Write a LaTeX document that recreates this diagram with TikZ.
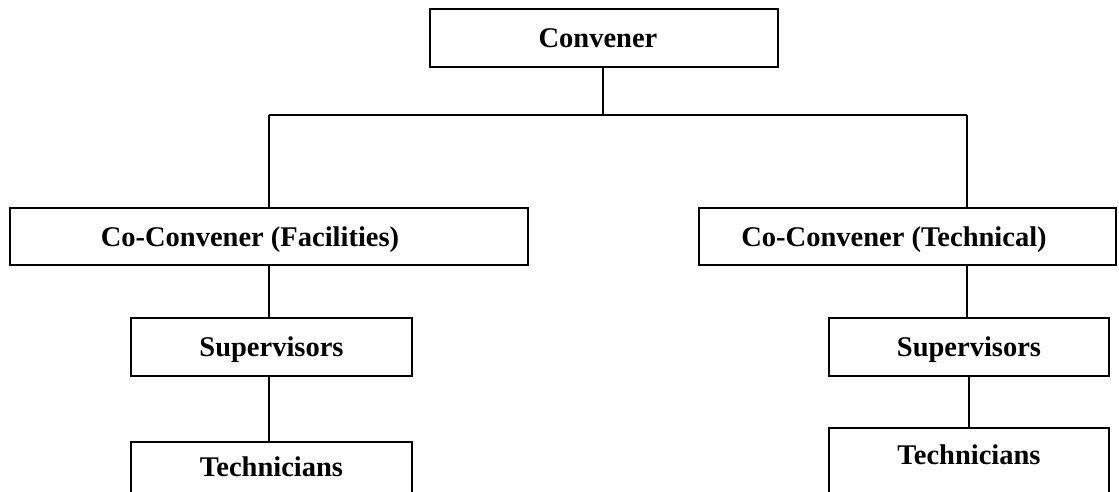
\documentclass[tikz,border=0pt]{standalone}
\usepackage{fontspec}
\setmainfont{Liberation Serif}
\begin{document}
\begin{tikzpicture}[x=1pt,y=-1pt,
  box/.style={draw=black, line width=1.5pt, rectangle, inner sep=0pt, font=\fontsize{28.5}{34}\selectfont\bfseries, text height=19pt, text depth=0pt},
  lbl/.style={inner sep=0pt, font=\fontsize{28.5}{34}\selectfont\bfseries, text height=19pt, text depth=0pt},
  conn/.style={draw=black, line width=1.5pt}]
\useasboundingbox (0,0) rectangle (1119,491);
\clip (0,0) rectangle (1119,491);
% boxes
\node[box, minimum width=348pt, minimum height=58pt] (conv) at (604,38) {Convener\kern12pt};
\node[box, minimum width=518pt, minimum height=57pt] (lco) at (269,236.5) {Co-Convener (Facilities)\kern38pt};
\node[box, minimum width=417pt, minimum height=57pt] (rco) at (907.5,236.5) {Co-Convener (Technical)\kern27pt};
\node[box, minimum width=281pt, minimum height=58pt] (lsup) at (271.5,347) {Supervisors};
\node[box, minimum width=280pt, minimum height=58pt] (rsup) at (969,347) {Supervisors};
\node[box, minimum width=281pt, minimum height=100pt, anchor=north] (ltech) at (271.5,441) {};
\node[box, minimum width=280pt, minimum height=100pt, anchor=north] (rtech) at (969,427) {};
\node[lbl] (ltecht) at (271.5,467) {Technicians};
\node[lbl] (rtecht) at (969,455) {Technicians};
% connectors
\coordinate (hm) at (603,115);
\coordinate (hl) at (269,115);
\coordinate (hr) at (967,115);
\draw[conn] (conv.south -| hm) -- (hm);
\draw[conn] (hl) -- (hr);
\draw[conn] (hl) -- (hl |- lco.north);
\draw[conn] (hr) -- (hr |- rco.north);
\draw[conn] (lsup.north -| hl) -- (hl |- lco.south);
\draw[conn] (rsup.north -| hr) -- (hr |- rco.south);
\draw[conn] (lsup.south -| hl) -- (ltech.north -| hl);
\draw[conn] (rsup.south) -- (rtech.north);
\end{tikzpicture}
\end{document}
